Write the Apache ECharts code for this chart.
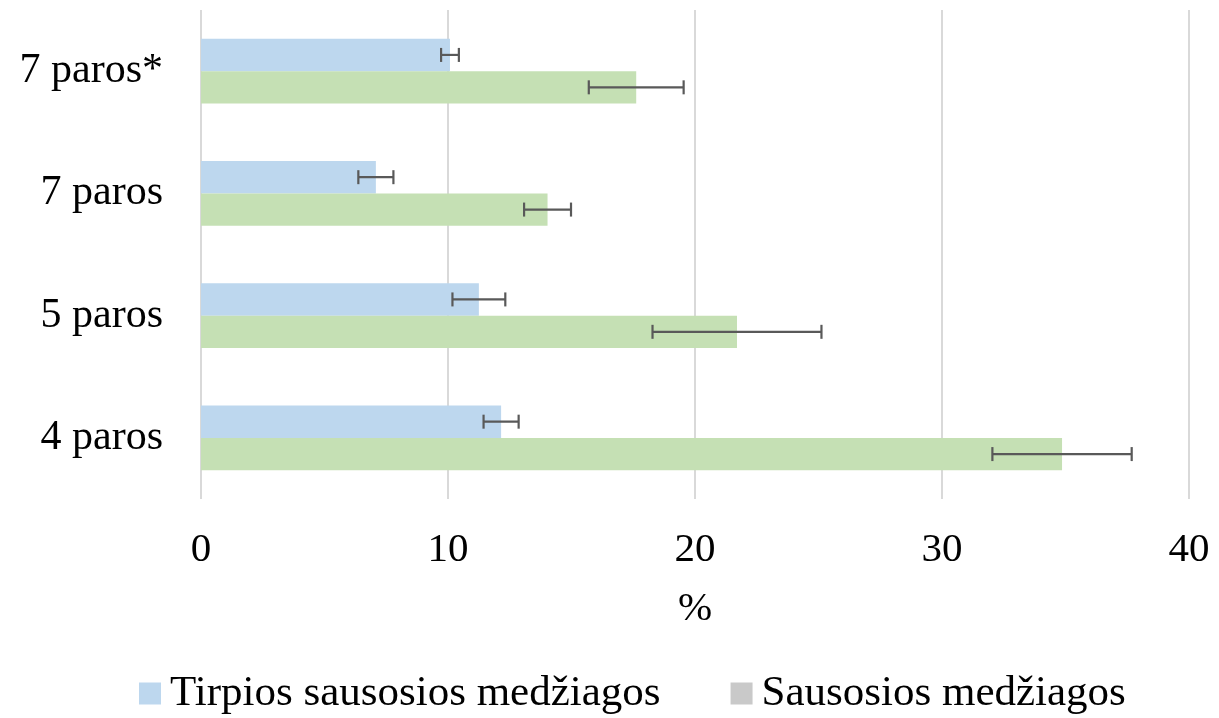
<!DOCTYPE html>
<html>
<head>
<meta charset="utf-8">
<script src="https://cdn.jsdelivr.net/npm/echarts@6/dist/echarts.min.js"></script>
<style>html,body{margin:0;padding:0;background:#fff}#c{width:1219px;height:718px}</style>
</head>
<body>
<div id="c"></div>
<script>
const categories = ['7 paros*', '7 paros', '5 paros', '4 paros'];
const seriesNames = ['Tirpios sausosios medžiagos', 'Sausosios medžiagos'];
const tirpiosValues = [10.08, 7.08, 11.25, 12.15];
const tirpiosErrors = [0.36, 0.71, 1.07, 0.71];
const sausosValues = [17.62, 14.03, 21.70, 34.86];
const sausosErrors = [1.92, 0.95, 3.42, 2.82];
const xTicks = [0, 10, 20, 30, 40];

const FONT = '"Liberation Serif", "Times New Roman", serif';
const chart = echarts.init(document.getElementById('c'));
const GAP = 0.47;

function errSeries(values, errs, idx) {
  return {
    type: 'custom',
    silent: true,
    z: 10,
    data: values.map((v, i) => [v - errs[i], v + errs[i], i]),
    renderItem: function (params, api) {
      const lo = api.coord([api.value(0), api.value(2)]);
      const hi = api.coord([api.value(1), api.value(2)]);
      const band = api.size([0, 1])[1];
      const barW = band * (1 - GAP) / 2;
      const off = (idx === 0 ? -1 : 1) * barW / 2;
      const y = lo[1] + off;
      const h = 7;
      const st = { stroke: '#595959', lineWidth: 2.2 };
      return {
        type: 'group',
        children: [
          { type: 'line', shape: { x1: lo[0], y1: y, x2: hi[0], y2: y }, style: st },
          { type: 'line', shape: { x1: lo[0], y1: y - h, x2: lo[0], y2: y + h }, style: st },
          { type: 'line', shape: { x1: hi[0], y1: y - h, x2: hi[0], y2: y + h }, style: st }
        ]
      };
    }
  };
}

chart.setOption({
  animation: false,
  grid: { left: 201, right: 30, top: 10, bottom: 219, containLabel: false },
  legend: {
    top: 667,
    left: 134,
    itemWidth: 22,
    itemHeight: 22,
    itemGap: 70,
    icon: 'rect',
    textStyle: { fontFamily: FONT, fontSize: 43, color: '#000', padding: [0, 0, 0, 4] },
    data: [
      { name: seriesNames[0], itemStyle: { color: '#BDD7EE' } },
      { name: seriesNames[1], itemStyle: { color: '#C9C9C9' } }
    ]
  },
  xAxis: {
    type: 'value',
    min: 0, max: 40, interval: 10,
    name: '%',
    nameLocation: 'middle',
    nameGap: 90,
    nameTextStyle: { fontFamily: FONT, fontSize: 41, color: '#000' },
    axisLine: { show: false },
    axisTick: { show: false },
    axisLabel: {
      fontFamily: FONT, fontSize: 41, color: '#000', margin: 31,
      formatter: v => xTicks.includes(v) ? String(v) : ''
    },
    splitLine: { show: true, lineStyle: { color: '#D9D9D9', width: 2 } }
  },
  yAxis: {
    type: 'category',
    inverse: true,
    data: categories,
    axisLine: { show: false },
    axisTick: { show: false },
    axisLabel: { fontFamily: FONT, fontSize: 42, color: '#000', margin: 38 }
  },
  series: [
    {
      name: seriesNames[0], type: 'bar', data: tirpiosValues,
      barGap: '0%', barCategoryGap: (GAP * 100) + '%',
      itemStyle: { color: '#BDD7EE' }
    },
    {
      name: seriesNames[1], type: 'bar', data: sausosValues,
      barGap: '0%', barCategoryGap: (GAP * 100) + '%',
      itemStyle: { color: '#C5E0B4' }
    },
    errSeries(tirpiosValues, tirpiosErrors, 0),
    errSeries(sausosValues, sausosErrors, 1)
  ]
});
</script>
</body>
</html>
